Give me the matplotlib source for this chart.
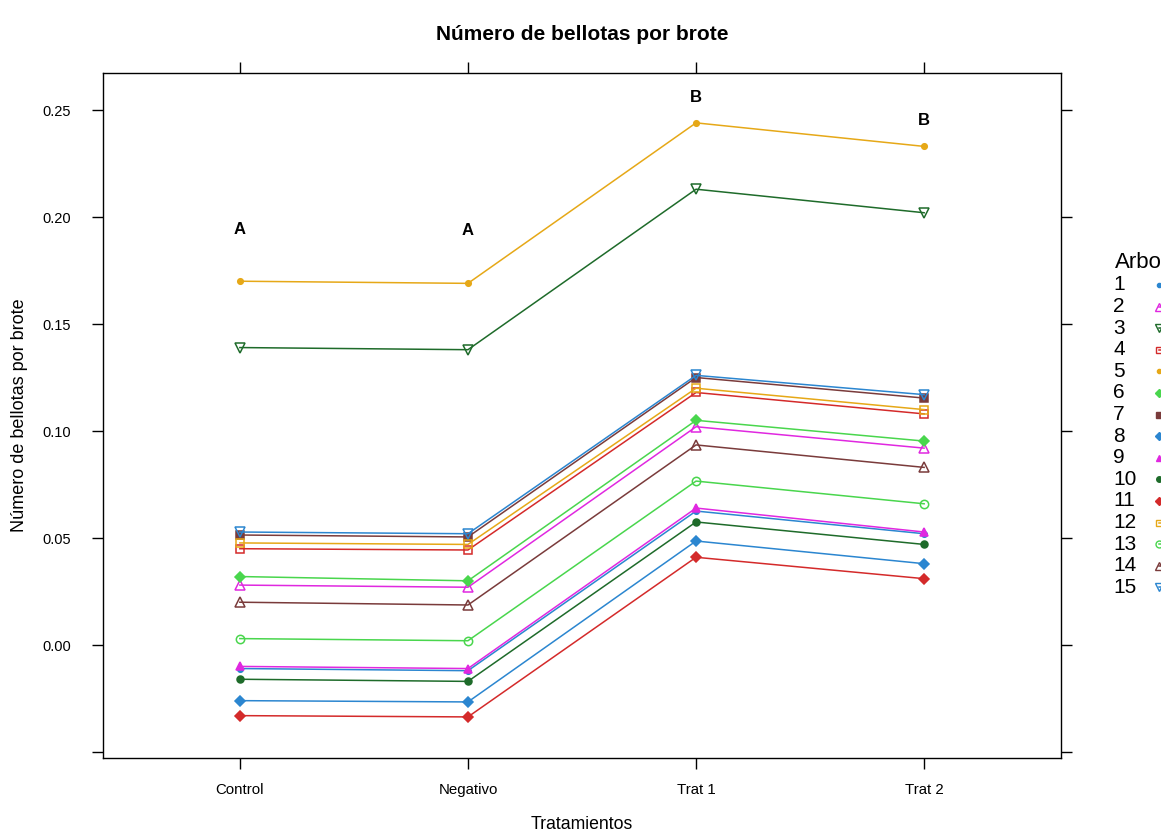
import matplotlib
matplotlib.use("Agg")
import matplotlib.pyplot as plt
from matplotlib.lines import Line2D

plt.rcParams['font.family'] = ['Liberation Sans', 'DejaVu Sans']

tratamientos = ["Control", "Negativo", "Trat 1", "Trat 2"]
arboles = [str(i) for i in range(1, 16)]

# mean acorns per shoot, one list per tree (Control, Negativo, Trat 1, Trat 2)
arbol_1 = [-0.011, -0.012, 0.0626, 0.052]
arbol_2 = [0.028, 0.027, 0.102, 0.092]
arbol_3 = [0.139, 0.138, 0.213, 0.202]
arbol_4 = [0.045, 0.0444, 0.118, 0.108]
arbol_5 = [0.170, 0.169, 0.244, 0.233]
arbol_6 = [0.032, 0.030, 0.105, 0.0953]
arbol_7 = [0.0514, 0.0505, 0.125, 0.1154]
arbol_8 = [-0.026, -0.0266, 0.0486, 0.038]
arbol_9 = [-0.010, -0.011, 0.064, 0.0528]
arbol_10 = [-0.016, -0.017, 0.0575, 0.047]
arbol_11 = [-0.033, -0.0336, 0.041, 0.031]
arbol_12 = [0.0477, 0.047, 0.120, 0.110]
arbol_13 = [0.003, 0.002, 0.0766, 0.066]
arbol_14 = [0.020, 0.0187, 0.0935, 0.083]
arbol_15 = [0.0528, 0.052, 0.126, 0.117]
series = [arbol_1, arbol_2, arbol_3, arbol_4, arbol_5, arbol_6, arbol_7, arbol_8,
          arbol_9, arbol_10, arbol_11, arbol_12, arbol_13, arbol_14, arbol_15]

# significance letters above each treatment
letras = ["A", "A", "B", "B"]
letras_y = [0.194, 0.1935, 0.256, 0.245]

y_ticks = [-0.05, 0.0, 0.05, 0.10, 0.15, 0.20, 0.25]
y_ticklabels = ["", "0.00", "0.05", "0.10", "0.15", "0.20", "0.25"]

palette = ["#2b86d0", "#e028e0", "#1e6b2a", "#d42a2a", "#e6a817", "#49d64d", "#7a3b3b"]
markers = ["o", "^", "v", "s", "o", "D", "s", "D", "^", "o", "D", "s", "o", "^", "v"]
filled = [True, False, False, False, True, True, True, True, True, True, True, False, False, False, False]
msizes = [4, 7, 7, 6, 4, 5, 6, 5, 6, 5, 5, 6, 6, 7, 7]

fig = plt.figure(figsize=(11.61, 8.32), dpi=100)
ax = fig.add_axes([103 / 1161, 1 - 758 / 832, (1061 - 103) / 1161, (758 - 73) / 832])

x = list(range(len(tratamientos)))
for i, vals in enumerate(series):
    c = palette[i % 7]
    ax.plot(x, vals, color=c, lw=1.1, marker=markers[i], ms=msizes[i],
            mfc=c if filled[i] else "none", mec=c, mew=1.1, zorder=2 + i * 0.01)

for xi, (txt, yv) in enumerate(zip(letras, letras_y)):
    ax.text(xi, yv, txt, ha="center", va="center", fontsize=12, fontweight="bold")

ax.set_xlim(-0.6, 3.6)
ax.set_ylim(-0.0528, 0.2673)
ax.set_xticks(x)
ax.set_xticklabels(tratamientos, fontsize=10.8)
ax.set_yticks(y_ticks)
ax.set_yticklabels(y_ticklabels, fontsize=10.5)
ax.tick_params(axis="both", direction="out", length=8, width=1, top=True, right=True,
               labeltop=False, labelright=False)
ax.tick_params(axis="y", pad=15)
ax.tick_params(axis="x", pad=10)
for s in ax.spines.values():
    s.set_linewidth(1)

ax.set_xlabel("Tratamientos", fontsize=12.7, labelpad=14)
fig.text(20 / 1161, 1 - 415 / 832, "Número de bellotas por brote", rotation=90,
         ha="center", va="center", fontsize=13)
fig.text(582 / 1161, 1 - 35 / 832, "Número de bellotas por brote", ha="center",
         va="center", fontsize=15, fontweight="bold")

# key on the right edge
fig.text(1115 / 1161, 1 - 262 / 832, "Arbol", ha="left", va="center", fontsize=16)
for i, lab in enumerate(arboles):
    yy = 1 - (285 + i * 21.6) / 832
    fig.text(1113 / 1161, yy, lab, ha="left", va="center", fontsize=15)
    c = palette[i % 7]
    fig.add_artist(Line2D([1159 / 1161, 1175 / 1161], [yy, yy], color=c, lw=1.1,
                          marker=markers[i], ms=msizes[i] - 1, markevery=[0],
                          mfc=c if filled[i] else "none", mec=c,
                          transform=fig.transFigure))

fig.savefig("out.png", dpi=100)
